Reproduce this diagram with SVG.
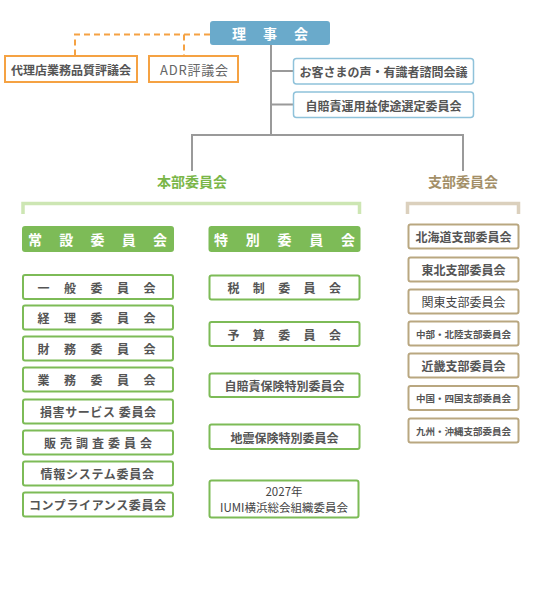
<svg xmlns="http://www.w3.org/2000/svg" width="540" height="600" viewBox="0 0 540 600">
<style>
text{font-family:"Noto Sans CJK JP","Noto Sans",sans-serif;font-weight:bold;dominant-baseline:central}
.t{font-size:12px;fill:#555}
.c{text-anchor:middle}
.hd{font-size:14px;fill:#fff}
.bl{fill:#fff;stroke:#8fc2da;stroke-width:1.5}
.or{fill:#fff;stroke:#f5a243;stroke-width:2}
.gr{fill:#fff;stroke:#7dbb57;stroke-width:2}
.br{fill:#fff;stroke:#b9a780;stroke-width:2}
.gl{fill:none;stroke:#9a9a9a;stroke-width:2}
</style>
<rect width="540" height="600" fill="#fff"/>
<g id="connectors">
<path d="M210,34.5 H75 V55.5 M184,34.5 V55.5" fill="none" stroke="#f5a243" stroke-width="2" stroke-dasharray="6,4"/>
<path class="gl" d="M271,45 V135 M271,71 H293 M271,104.5 H293 M192,171 V135 H463 V171"/>
<path d="M23,214 V203.5 H359.5 V214" fill="none" stroke="#cde6b3" stroke-width="3.5"/>
<path d="M407.5,214 V203.5 H518.5 V214" fill="none" stroke="#dbd0bd" stroke-width="3.5"/>
</g>
<g id="rijikai"><rect x="210" y="21" width="120" height="24" rx="3" fill="#6aaacb"/><text class="hd" x="232" y="33" textLength="76" lengthAdjust="spacing">理事会</text></g>
<g id="dairiten"><rect class="or" x="5" y="56" width="132" height="26"/><text class="t" x="71" y="69.5" text-anchor="middle">代理店業務品質評議会</text></g>
<g id="adr"><rect class="or" x="149" y="56" width="89" height="26"/><text class="t" x="160" y="69.5" textLength="68" lengthAdjust="spacing" style="font-size:13px;font-weight:normal;fill:#666">ADR評議会</text></g>
<g id="okyakusama"><rect class="bl" x="293.5" y="58.5" width="180" height="25.5" rx="3"/><text class="t" x="383.5" y="71.5" text-anchor="middle">お客さまの声・有識者諮問会議</text></g>
<g id="jibaiseki-unyo"><rect class="bl" x="293.5" y="92" width="180" height="25.5" rx="3"/><text class="t" x="383.5" y="105" text-anchor="middle">自賠責運用益使途選定委員会</text></g>
<text x="192" y="181" text-anchor="middle" style="font-size:14px;fill:#7ab648">本部委員会</text>
<text x="463" y="181" text-anchor="middle" style="font-size:14px;fill:#a38f68">支部委員会</text>
<g id="josetsu"><rect x="22" y="226" width="152" height="26" rx="3" fill="#7dbb57"/><text class="hd" x="28" y="239" textLength="139" lengthAdjust="spacing">常設委員会</text></g>
<g id="tokubetsu"><rect x="208.5" y="226" width="152" height="26" rx="3" fill="#7dbb57"/><text class="hd" x="214" y="239" textLength="141" lengthAdjust="spacing">特別委員会</text></g>
<g id="ippan"><rect class="gr" x="23" y="275" width="150" height="24" rx="2"/><text class="t" x="37.5" y="287" textLength="118" lengthAdjust="spacing">一般委員会</text></g>
<g id="keiri"><rect class="gr" x="23" y="305.5" width="150" height="24" rx="2"/><text class="t" x="37.5" y="317.5" textLength="118" lengthAdjust="spacing">経理委員会</text></g>
<g id="zaimu"><rect class="gr" x="23" y="336.5" width="150" height="24" rx="2"/><text class="t" x="37.5" y="348.5" textLength="118" lengthAdjust="spacing">財務委員会</text></g>
<g id="gyomu"><rect class="gr" x="23" y="367.5" width="150" height="24" rx="2"/><text class="t" x="37.5" y="379.5" textLength="118" lengthAdjust="spacing">業務委員会</text></g>
<g id="songai"><rect class="gr" x="23" y="399.5" width="150" height="24" rx="2"/><text class="t" x="40" y="411.5" textLength="116" lengthAdjust="spacing">損害サービス 委員会</text></g>
<g id="hanbai"><rect class="gr" x="23" y="430.5" width="150" height="24" rx="2"/><text class="t" x="44" y="442.5" textLength="108" lengthAdjust="spacing">販売調査委員会</text></g>
<g id="joho"><rect class="gr" x="23" y="461.5" width="150" height="24" rx="2"/><text class="t" x="40.5" y="473.5" textLength="113.5" lengthAdjust="spacing">情報システム委員会</text></g>
<g id="compliance"><rect class="gr" x="23" y="492.5" width="150" height="24" rx="2"/><text class="t" x="29" y="504.5" textLength="137" lengthAdjust="spacing">コンプライアンス委員会</text></g>
<g id="zeisei"><rect class="gr" x="209.5" y="275.5" width="150" height="24" rx="2"/><text class="t" x="227.5" y="287.5" textLength="113.5" lengthAdjust="spacing">税制委員会</text></g>
<g id="yosan"><rect class="gr" x="209.5" y="322" width="150" height="24" rx="2"/><text class="t" x="227.5" y="334" textLength="113.5" lengthAdjust="spacing">予算委員会</text></g>
<g id="jibaiseki"><rect class="gr" x="209.5" y="373.5" width="150" height="23.5" rx="2"/><text class="t" x="284.5" y="385.5" text-anchor="middle">自賠責保険特別委員会</text></g>
<g id="jishin"><rect class="gr" x="209.5" y="424.5" width="150" height="24.5" rx="2"/><text class="t" x="284.5" y="437" text-anchor="middle">地震保険特別委員会</text></g>
<g id="iumi"><rect class="gr" x="209.5" y="480.5" width="149" height="37" rx="2"/><text class="t" x="284" y="491" text-anchor="middle" style="font-size:11.5px;font-weight:normal;fill:#444">2027年</text><text class="t" x="284" y="507" text-anchor="middle" style="font-size:11.5px;font-weight:normal;fill:#444">IUMI横浜総会組織委員会</text></g>
<g id="hokkaido"><rect class="br" x="408.5" y="224.5" width="110" height="24" rx="2"/><text class="t" x="463.5" y="236.5" text-anchor="middle">北海道支部委員会</text></g>
<g id="tohoku"><rect class="br" x="408.5" y="257.5" width="110" height="24" rx="2"/><text class="t" x="463.5" y="269.5" text-anchor="middle">東北支部委員会</text></g>
<g id="kanto"><rect class="br" x="408.5" y="289.5" width="110" height="24" rx="2"/><text class="t" x="463.5" y="301.5" text-anchor="middle" style="font-weight:normal;fill:#444">関東支部委員会</text></g>
<g id="chubu"><rect class="br" x="408.5" y="321.5" width="110" height="24" rx="2"/><text class="t" x="463.5" y="333.5" text-anchor="middle" style="font-size:9.5px">中部・北陸支部委員会</text></g>
<g id="kinki"><rect class="br" x="408.5" y="353.5" width="110" height="24" rx="2"/><text class="t" x="463.5" y="365.5" text-anchor="middle">近畿支部委員会</text></g>
<g id="chugoku"><rect class="br" x="408.5" y="386" width="110" height="24" rx="2"/><text class="t" x="463.5" y="398" text-anchor="middle" style="font-size:9.5px">中国・四国支部委員会</text></g>
<g id="kyushu"><rect class="br" x="408.5" y="418.5" width="110" height="24" rx="2"/><text class="t" x="463.5" y="430.5" text-anchor="middle" style="font-size:9.5px">九州・沖縄支部委員会</text></g>
</svg>
